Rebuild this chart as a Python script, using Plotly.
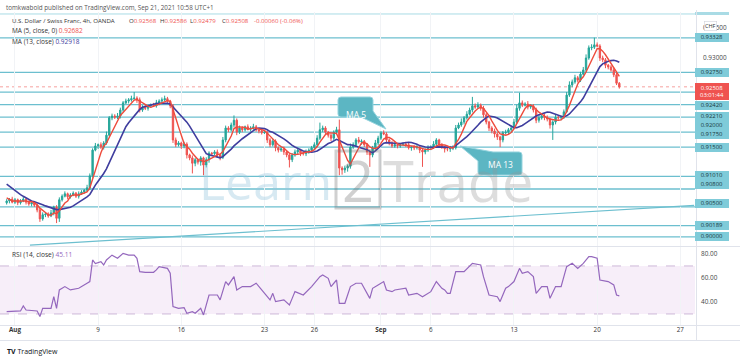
import plotly.graph_objects as go
import pandas as pd

W, H = 740, 361
FONT = "Open Sans, Roboto, DejaVu Sans, sans-serif"

# ---------------- data (USD/CHF 4h, OANDA) ----------------
warmup_close = [0.9112, 0.9108, 0.9105, 0.9103, 0.9102, 0.9100, 0.9098, 0.9095,
                0.9078, 0.9068, 0.9062, 0.9057]

close = [
    0.9060, 0.9063, 0.9058, 0.9062, 0.9057, 0.9060, 0.9063, 0.9058, 0.9055, 0.9057,
    0.9053, 0.9045, 0.9030, 0.9037, 0.9038, 0.9035, 0.9040, 0.9050, 0.9031, 0.9062,
    0.9068, 0.9072, 0.9067, 0.9070, 0.9073, 0.9068, 0.9072, 0.9075, 0.9078, 0.9082,
    0.9102, 0.9145, 0.9152, 0.9154, 0.9150, 0.9157, 0.9170, 0.9199, 0.9202, 0.9200,
    0.9202, 0.9212, 0.9224, 0.9227, 0.9229, 0.9231, 0.9232, 0.9229, 0.9212, 0.9217,
    0.9215, 0.9219, 0.9220, 0.9219, 0.9224, 0.9227, 0.9229, 0.9231, 0.9227, 0.9219,
    0.9162, 0.9154, 0.9157, 0.9152, 0.9155, 0.9137, 0.9132, 0.9123, 0.9129, 0.9125,
    0.9132, 0.9120, 0.9129, 0.9140, 0.9139, 0.9142, 0.9137, 0.9133, 0.9162, 0.9182,
    0.9179, 0.9187, 0.9195, 0.9175, 0.9182, 0.9179, 0.9184, 0.9180, 0.9182, 0.9184,
    0.9179, 0.9177, 0.9174, 0.9175, 0.9162, 0.9154, 0.9160, 0.9149, 0.9145, 0.9147,
    0.9142, 0.9137, 0.9129, 0.9137, 0.9142, 0.9145, 0.9140, 0.9139, 0.9142, 0.9145,
    0.9149, 0.9154, 0.9165, 0.9179, 0.9182, 0.9175, 0.9170, 0.9165, 0.9175, 0.9179,
    0.9115, 0.9112, 0.9115, 0.9118, 0.9150, 0.9154, 0.9162, 0.9159, 0.9160, 0.9154,
    0.9142, 0.9137, 0.9149, 0.9157, 0.9165, 0.9174, 0.9172, 0.9162, 0.9157, 0.9152,
    0.9154, 0.9152, 0.9154, 0.9155, 0.9154, 0.9149, 0.9150, 0.9149, 0.9150, 0.9145,
    0.9142, 0.9145, 0.9149, 0.9150, 0.9155, 0.9162, 0.9154, 0.9150, 0.9147, 0.9147,
    0.9149, 0.9149, 0.9182, 0.9187, 0.9192, 0.9199, 0.9205, 0.9212, 0.9219, 0.9217,
    0.9220, 0.9215, 0.9204, 0.9192, 0.9182, 0.9177, 0.9172, 0.9167, 0.9162, 0.9174,
    0.9175, 0.9179, 0.9182, 0.9192, 0.9215, 0.9224, 0.9220, 0.9222, 0.9217, 0.9219,
    0.9212, 0.9195, 0.9199, 0.9202, 0.9200, 0.9197, 0.9187, 0.9192, 0.9200, 0.9199,
    0.9200, 0.9209, 0.9237, 0.9254, 0.9259, 0.9266, 0.9262, 0.9272, 0.9279, 0.9299,
    0.9316, 0.9317, 0.9321, 0.9319, 0.9299, 0.9296, 0.9287, 0.9284, 0.9279, 0.9271,
    0.92568, 0.92508]

upper_wick_pips = [
    3, 2, 4, 3, 2, 3, 4, 2, 3, 2,   3, 2, 3, 4, 2, 3, 5, 2, 3, 4,
    3, 4, 2, 3, 3, 2, 4, 3, 2, 5,   4, 3, 5, 2, 4, 3, 6, 3, 4, 3,
    5, 4, 3, 4, 3, 5, 10, 3, 4, 3,  4, 2, 3, 4, 5, 3, 4, 5, 3, 2,
    3, 4, 3, 2, 4, 3, 2, 4, 3, 2,   3, 2, 4, 3, 2, 3, 4, 3, 5, 4,
    3, 4, 8, 3, 4, 3, 2, 4, 3, 5,   3, 2, 4, 3, 2, 3, 4, 3, 2, 3,
    4, 3, 2, 3, 4, 3, 2, 3, 4, 3,   3, 4, 5, 12, 4, 3, 2, 4, 3, 5,
    17, 3, 4, 3, 6, 4, 3, 5, 3, 2,  3, 4, 3, 5, 4, 3, 4, 3, 2, 3,
    4, 3, 2, 3, 4, 3, 2, 3, 4, 3,   2, 3, 4, 3, 5, 3, 2, 3, 2, 3,
    3, 4, 5, 4, 6, 3, 5, 4, 15, 4,  5, 3, 4, 3, 2, 3, 4, 3, 2, 3,
    4, 3, 4, 5, 6, 17, 4, 3, 5, 3,  3, 4, 3, 2, 4, 3, 2, 3, 4, 3,
    3, 4, 5, 6, 4, 5, 3, 4, 5, 6,   4, 5, 12, 4, 3, 4, 3, 2, 3, 4,
    3, 2]

lower_wick_pips = [
    3, 4, 2, 3, 4, 3, 2, 4, 3, 4,   3, 4, 5, 3, 4, 3, 2, 4, 8, 6,
    3, 2, 4, 3, 2, 3, 4, 2, 3, 3,   4, 3, 2, 5, 3, 4, 3, 2, 4, 3,
    3, 4, 3, 2, 4, 3, 2, 5, 4, 3,   3, 4, 3, 2, 3, 4, 3, 2, 3, 4,
    5, 4, 3, 5, 4, 6, 4, 17, 5, 4,  6, 17, 4, 5, 4, 3, 4, 5, 3, 4,
    4, 3, 4, 5, 3, 4, 3, 2, 4, 3,   3, 4, 3, 2, 5, 4, 3, 6, 4, 3,
    5, 4, 13, 4, 3, 4, 5, 3, 4, 3,  3, 2, 4, 3, 4, 3, 4, 5, 3, 4,
    12, 8, 5, 6, 4, 3, 4, 3, 5, 4,  5, 20, 4, 3, 4, 3, 2, 5, 4, 3,
    3, 4, 3, 2, 4, 3, 5, 4, 3, 5,   25, 4, 3, 4, 3, 5, 4, 3, 6, 4,
    5, 4, 3, 2, 3, 4, 3, 2, 4, 3,   3, 4, 5, 4, 5, 4, 6, 5, 12, 4,
    3, 4, 3, 2, 3, 4, 3, 2, 4, 3,   4, 5, 4, 3, 5, 4, 6, 25, 4, 3,
    4, 3, 2, 3, 4, 3, 4, 3, 2, 4,   3, 4, 3, 2, 5, 4, 5, 4, 3, 4,
    3, 3]

# RSI (14, close): bar number -> value
rsi_bar = [0, 5, 6, 7, 11, 12, 13, 16, 17, 18, 19, 21, 23, 26, 29, 30, 31, 32, 34, 35,
           36, 38, 40, 42, 44, 46, 47, 48, 50, 53, 54, 55, 58, 59, 60, 62, 64, 65, 67, 68,
           70, 71, 73, 76, 77, 79, 80, 82, 83, 85, 88, 90, 92, 95, 96, 97, 100, 102, 103, 104,
           107, 109, 110, 113, 114, 116, 117, 119, 120, 122, 124, 126, 128, 131, 132, 134, 136, 137, 139, 140,
           144, 145, 148, 150, 153, 155, 157, 158, 159, 160, 162, 165, 167, 168, 171, 172, 174, 177, 178, 180,
           181, 183, 185, 186, 188, 190, 191, 193, 195, 196, 198, 200, 201, 202, 204, 206, 208, 210, 211, 213,
           214, 217, 219, 220, 221]
rsi_val = [32.0, 32.5, 36.7, 33.3, 32.5, 27.8, 34.7, 34.7, 44.4, 34.7, 50.0, 52.8, 50.0, 51.4, 55.6, 57.0, 75.0, 72.0, 73.6, 70.8,
           75.0, 79.0, 76.4, 80.5, 79.0, 79.0, 76.4, 65.3, 64.7, 64.7, 66.7, 69.4, 68.0, 63.9, 36.1, 34.7, 35.3, 30.6, 31.9, 30.6,
           34.7, 29.2, 45.8, 45.8, 41.7, 57.0, 54.2, 61.1, 50.0, 52.8, 52.8, 55.6, 50.0, 41.7, 47.2, 40.3, 41.7, 37.5, 43.0, 48.6,
           45.8, 50.0, 52.8, 61.1, 62.5, 59.7, 52.8, 58.3, 38.9, 38.9, 52.8, 55.6, 55.6, 43.0, 51.4, 54.2, 57.0, 50.0, 48.6, 50.0,
           51.4, 45.8, 47.2, 44.4, 48.6, 57.0, 51.4, 50.0, 47.2, 47.2, 65.3, 65.3, 69.4, 72.2, 70.8, 61.1, 45.8, 44.4, 40.3, 51.4,
           52.8, 57.0, 68.0, 63.9, 65.3, 61.1, 47.2, 52.8, 52.8, 43.0, 52.8, 52.8, 61.1, 69.4, 72.2, 68.0, 72.2, 77.8, 77.8, 76.4,
           58.3, 57.0, 54.2, 45.8, 45.11]

# horizontal levels drawn on the chart
levels = [0.93328, 0.92750, 0.92420, 0.92210, 0.92000, 0.91750, 0.91500,
          0.91010, 0.90800, 0.90500, 0.90189, 0.90000]
upper_level = 0.93726
last_price = 0.92508
trend_bar = [8.4, 248.0]
trend_price = [0.89860, 0.90527]

# time axis: trading-day offsets from Aug 2 and labels
tick_day = [0, 5, 10, 15, 18, 22, 25, 30, 35, 40]
tick_text = ["<b>Aug</b>", "9", "16", "23", "26", "<b>Sep</b>", "6", "13", "20", "27"]

# legend values of the last bar
ohlc_text = ["O0.92568", "H0.92586", "L0.92479", "C0.92508", "-0.00060 (-0.06%)"]

# ---------------- build ----------------
n = len(close)
bars = list(range(n))
opens = [warmup_close[-1]] + close[:-1]
highs = [max(o, c) + u * 0.0001 for o, c, u in zip(opens, close, upper_wick_pips)]
lows = [min(o, c) - l * 0.0001 for o, c, l in zip(opens, close, lower_wick_pips)]
full = pd.Series(warmup_close + close)
ma5 = full.rolling(5).mean().iloc[len(warmup_close):].tolist()
ma13 = full.rolling(13).mean().iloc[len(warmup_close):].tolist()
tick_bar = [3 + 6 * d for d in tick_day]

XR = 695 / W          # right edge of panes (paper)
def py(y):            # pixel row -> paper
    return 1 - y / H
def P(x, y):
    return f"{x / W:.5f},{1 - y / H:.5f}"

fig = go.Figure()
fig.add_trace(go.Candlestick(
    x=bars, open=opens, high=highs, low=lows, close=close,
    increasing=dict(line=dict(color="#26a69a", width=1), fillcolor="#26a69a"),
    decreasing=dict(line=dict(color="#ef5350", width=1), fillcolor="#ef5350"),
    whiskerwidth=0, hoverinfo="skip", xaxis="x", yaxis="y"))
fig.add_trace(go.Scatter(x=bars, y=ma13, mode="lines", line=dict(color="#3f3d9e", width=1.6),
                         hoverinfo="skip", xaxis="x", yaxis="y"))
fig.add_trace(go.Scatter(x=bars, y=ma5, mode="lines", line=dict(color="#ee4b3c", width=1.4),
                         hoverinfo="skip", xaxis="x", yaxis="y"))
fig.add_trace(go.Scatter(x=trend_bar, y=trend_price, mode="lines",
                         line=dict(color="#6cbfcf", width=1.2), hoverinfo="skip",
                         xaxis="x", yaxis="y"))
fig.add_trace(go.Scatter(x=rsi_bar, y=rsi_val, mode="lines", line=dict(color="#9467bd", width=1.2),
                         hoverinfo="skip", xaxis="x2", yaxis="y2"))

shapes = []
annotations = []

# level lines + labels (labels nudged apart on the price scale as in the source)
label_shift = {0.92420: -13, 0.92210: -12, 0.92000: -8, 0.91750: -2, 0.91010: 1,
               0.90800: 5, 0.90500: 3}
for v in levels:
    shapes.append(dict(type="line", xref="paper", yref="y", x0=0, x1=XR, y0=v, y1=v,
                       line=dict(color="#6cbfcf", width=1.3), layer="below"))
    annotations.append(dict(xref="paper", yref="y", x=XR, y=v, xanchor="left", yanchor="middle",
                            text=f"{v:.5f}", showarrow=False, bgcolor="#7fcbd9", borderpad=0.4,
                            borderwidth=0, width=33, yshift=label_shift.get(v, 0),
                            font=dict(size=5.9, color="#173840", family=FONT)))
shapes.append(dict(type="line", xref="paper", yref="y", x0=0, x1=XR, y0=upper_level, y1=upper_level,
                   line=dict(color="#a9dbe5", width=1), layer="below"))
shapes.append(dict(type="rect", xref="paper", yref="paper", x0=XR, x1=729 / W, y0=py(15), y1=py(12),
                   fillcolor="#a9dbe5", line=dict(width=0)))
# current price line
shapes.append(dict(type="line", xref="paper", yref="y", x0=0, x1=XR, y0=last_price, y1=last_price,
                   line=dict(color="rgba(239,83,80,0.55)", width=1, dash="dot"), layer="below"))
annotations.append(dict(xref="paper", yref="y", x=XR, y=last_price, xanchor="left", yanchor="top",
                        yshift=4, text="0.92508<br>03:01:44", showarrow=False, bgcolor="#ef5350",
                        borderpad=0.5, borderwidth=0, width=33, align="center",
                        font=dict(size=5.9, color="white", family=FONT)))

# RSI band
shapes.append(dict(type="rect", xref="paper", yref="y2", x0=0, x1=XR, y0=30, y1=70,
                   fillcolor="rgba(156,39,176,0.08)", line=dict(width=0), layer="below"))
for lv in (30, 70):
    shapes.append(dict(type="line", xref="paper", yref="y2", x0=0, x1=XR, y0=lv, y1=lv,
                       line=dict(color="#cdb8d8", width=1, dash="dash"), layer="below"))

# pane separators
for yy in (246.5, 325.5, 340.5):
    shapes.append(dict(type="line", xref="paper", yref="paper", x0=0, x1=1, y0=py(yy), y1=py(yy),
                       line=dict(color="#e0e3eb", width=1)))
shapes.append(dict(type="line", xref="paper", yref="paper", x0=696.5 / W, x1=696.5 / W,
                   y0=py(340.5), y1=py(10), line=dict(color="#e0e3eb", width=1)))

# watermark
annotations.append(dict(xref="paper", yref="paper", x=334 / W, y=py(181), xanchor="right",
                        yanchor="middle", text="Learn", showarrow=False,
                        font=dict(size=50, color="rgba(150,196,222,0.38)", family=FONT)))
annotations.append(dict(xref="paper", yref="paper", x=358 / W, y=py(180), xanchor="center",
                        yanchor="middle", text="2", showarrow=False,
                        font=dict(size=56, color="rgba(110,110,110,0.32)", family=FONT)))
shapes.append(dict(type="rect", xref="paper", yref="paper", x0=336 / W, x1=380 / W, y0=py(208), y1=py(151),
                   line=dict(color="rgba(110,110,110,0.32)", width=3)))
annotations.append(dict(xref="paper", yref="paper", x=381 / W, y=py(180), xanchor="left",
                        yanchor="middle", text="Trade", showarrow=False,
                        font=dict(size=56, color="rgba(150,150,150,0.32)", family=FONT)))

# MA callouts
box_fill, box_line = "#5cb6c3", "#95d4de"
shapes.append(dict(type="path", xref="paper", yref="paper", fillcolor=box_fill, line=dict(color=box_line, width=1),
                   path=f"M{P(341,97)} L{P(370,97)} Q{P(373,97)} {P(373,100)} L{P(373,111)} L{P(386,129)} "
                        f"L{P(361,117)} L{P(341,117)} Q{P(338,117)} {P(338,114)} L{P(338,100)} Q{P(338,97)} {P(341,97)} Z"))
annotations.append(dict(xref="paper", yref="paper", x=355.5 / W, y=py(107), xanchor="center", text="MA 5",
                        showarrow=False, font=dict(size=8.5, color="white", family=FONT)))
shapes.append(dict(type="path", xref="paper", yref="paper", fillcolor=box_fill, line=dict(color=box_line, width=1),
                   path=f"M{P(460,146)} L{P(493,152)} L{P(519,152)} Q{P(522,152)} {P(522,155)} L{P(522,172)} "
                        f"Q{P(522,175)} {P(519,175)} L{P(481,175)} Q{P(478,175)} {P(478,172)} L{P(478,161)} Z"))
annotations.append(dict(xref="paper", yref="paper", x=500 / W, y=py(164), xanchor="center", text="MA 13",
                        showarrow=False, font=dict(size=8.5, color="white", family=FONT)))

# header / legend texts
def txt(x, y, text, size=6.1, color="#555"):
    annotations.append(dict(xref="paper", yref="paper", x=x / W, y=py(y), xanchor="left", yanchor="middle",
                            text=text, showarrow=False, font=dict(size=size, color=color, family=FONT)))

R = "#ef5350"
txt(4, 7, "tomkwabold published on TradingView.com, Sep 21, 2021 10:58 UTC+1", size=6.3, color="#555")
txt(10, 20, "U.S. Dollar / Swiss Franc, 4h, OANDA", color="#333")
for xp, t in zip([127, 158, 188, 220, 252], ohlc_text):
    if t[0] in "OHLC":
        txt(xp, 20, f"{t[0]}<span style='color:{R}'>{t[1:]}</span>", color="#333")
    else:
        txt(xp, 20, f"<span style='color:{R}'>{t}</span>", color="#333")
txt(10, 31, f"MA (5, close, 0)&nbsp;<span style='color:{R}'>0.92682</span>", size=6.5, color="#333")
txt(10, 41, "MA (13, close)&nbsp;<span style='color:#3f3d9e'>0.92918</span>", size=6.5, color="#333")
txt(10, 254, "RSI (14, close)&nbsp;<span style='color:#9467bd'>45.11</span>", size=6.6, color="#333")
annotations.append(dict(xref="paper", yref="paper", x=717 / W, y=py(21), text="CHF", showarrow=False,
                        bgcolor="white", bordercolor="#d0d3da", borderwidth=0.6, borderpad=0.5,
                        font=dict(size=5.5, color="#333", family=FONT)))
txt(5, 351, "<b>TV</b> TradingView", size=7, color="#131722")

fig.update_layout(
    width=W, height=H, margin=dict(l=0, r=0, t=0, b=0),
    paper_bgcolor="white", plot_bgcolor="rgba(0,0,0,0)", showlegend=False,
    shapes=shapes, annotations=annotations,
    xaxis=dict(domain=[0, XR], range=[-2.4, 248.3], anchor="y", showticklabels=False,
               tickvals=tick_bar, showgrid=True, gridcolor="#f1f3f6", zeroline=False,
               rangeslider=dict(visible=False), fixedrange=True),
    yaxis=dict(domain=[py(246), py(12)], range=[0.89847, 0.93759], side="right", anchor="x",
               tickvals=[0.935, 0.930], ticktext=["0.93500", "0.93000"], showgrid=False,
               zeroline=False, ticks="", ticklabelstandoff=7,
               tickfont=dict(size=6.4, color="#444", family=FONT)),
    xaxis2=dict(domain=[0, XR], range=[-2.4, 248.3], anchor="y2", matches="x",
                tickvals=tick_bar, ticktext=tick_text, showgrid=True, gridcolor="#f1f3f6",
                zeroline=False, ticks="", tickfont=dict(size=6.3, color="#333", family=FONT)),
    yaxis2=dict(domain=[py(325), py(247)], range=[20.8, 85.8], side="right", anchor="x2",
                tickvals=[40, 60, 80], ticktext=["40.00", "60.00", "80.00"], showgrid=False,
                zeroline=False, ticks="", ticklabelstandoff=5,
                tickfont=dict(size=6.4, color="#444", family=FONT)),
)

fig.write_html("out.html")
